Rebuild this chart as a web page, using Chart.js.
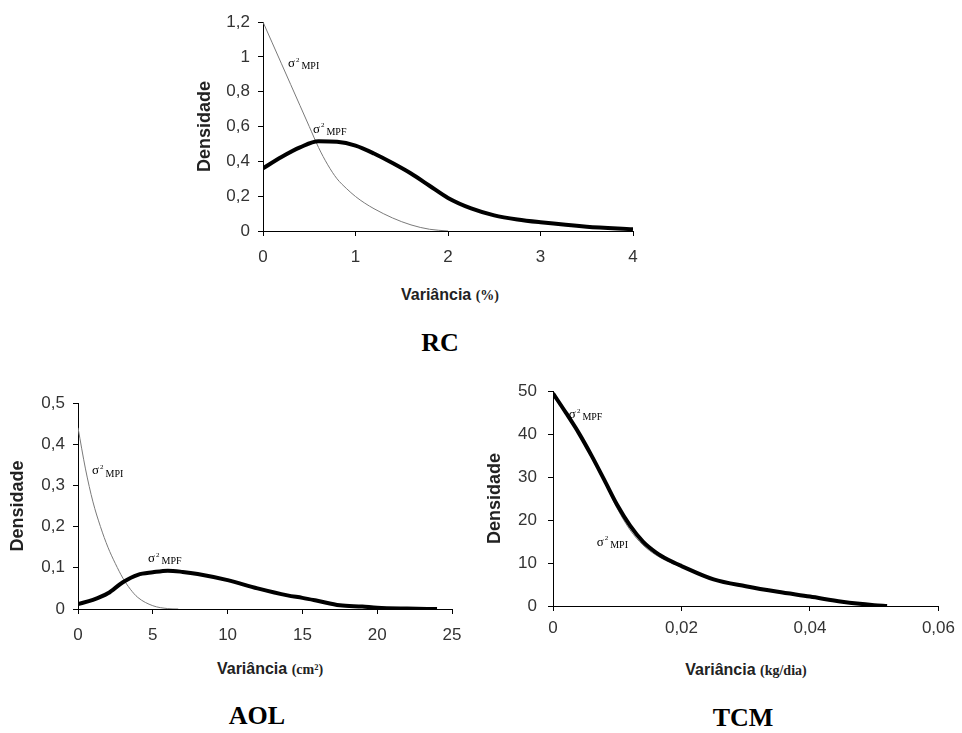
<!DOCTYPE html>
<html>
<head>
<meta charset="utf-8">
<script src="https://cdn.jsdelivr.net/npm/chart.js@4.4.1/dist/chart.umd.min.js"></script>
<style>
  body { margin: 0; background: #fff; width: 962px; height: 733px; position: relative; overflow: hidden; }
  canvas { position: absolute; }
  .xt { position: absolute; transform: translate(-50%, -50%); white-space: nowrap;
        font: bold 16px "Liberation Sans", Arial, sans-serif; color: #222; }
  .xt span { font: bold 14px "Liberation Serif", "Times New Roman", serif; }
  .ct { position: absolute; transform: translate(-50%, -50%); white-space: nowrap;
        font: bold 26px "Liberation Serif", "Times New Roman", serif; color: #000; }
</style>
</head>
<body>
<canvas id="rc"></canvas>
<canvas id="aol"></canvas>
<canvas id="tcm"></canvas>

<div class="xt" style="left:450px;top:295px">Variância <span>(%)</span></div>
<div class="xt" style="left:270px;top:669px">Variância <span>(cm²)</span></div>
<div class="xt" style="left:746px;top:670px">Variância <span>(kg/dia)</span></div>

<div class="ct" style="left:440px;top:343px">RC</div>
<div class="ct" style="left:257px;top:716px">AOL</div>
<div class="ct" style="left:743px;top:718px">TCM</div>

<script>
// RC
const rcMpiX = [0, 0.1, 0.2, 0.3, 0.4, 0.5, 0.6, 0.7, 0.8, 0.9, 1.0, 1.1, 1.2, 1.4, 1.6, 1.8, 2.0];
const rcMpiY = [1.2, 1.08, 0.96, 0.84, 0.72, 0.6, 0.48, 0.38, 0.3, 0.245, 0.198, 0.16, 0.128, 0.075, 0.035, 0.01, 0];
const rcMpfX = [0, 0.2, 0.4, 0.6, 0.8, 1.0, 1.2, 1.4, 1.6, 1.8, 2.0, 2.25, 2.5, 2.75, 3.0, 3.5, 4.0];
const rcMpfY = [0.36, 0.425, 0.48, 0.515, 0.512, 0.49, 0.445, 0.39, 0.33, 0.26, 0.19, 0.13, 0.09, 0.066, 0.05, 0.025, 0.01];
const rcXTicks = [0, 1, 2, 3, 4];
const rcXLabels = ["0", "1", "2", "3", "4"];
const rcYTicks = [0, 0.2, 0.4, 0.6, 0.8, 1, 1.2];
const rcYLabels = ["0", "0,2", "0,4", "0,6", "0,8", "1", "1,2"];

// AOL
const aolMpiX = [0, 0.5, 1, 1.5, 2, 2.5, 3, 3.5, 4, 5, 6, 6.7];
const aolMpiY = [0.44, 0.34, 0.26, 0.2, 0.15, 0.11, 0.075, 0.048, 0.028, 0.008, 0.001, 0];
const aolMpfX = [0, 1, 2, 3, 4, 5, 6, 7, 8, 10, 12, 14, 15, 16, 17.5, 19, 20, 22, 24];
const aolMpfY = [0.012, 0.022, 0.038, 0.065, 0.083, 0.089, 0.093, 0.09, 0.085, 0.07, 0.05, 0.033, 0.027, 0.02, 0.009, 0.006, 0.003, 0.001, 0];
const aolXTicks = [0, 5, 10, 15, 20, 25];
const aolXLabels = ["0", "5", "10", "15", "20", "25"];
const aolYTicks = [0, 0.1, 0.2, 0.3, 0.4, 0.5];
const aolYLabels = ["0", "0,1", "0,2", "0,3", "0,4", "0,5"];

// TCM
const tcmX = [0, 0.002, 0.004, 0.006, 0.008, 0.01, 0.012, 0.014, 0.016, 0.018, 0.02, 0.025, 0.03, 0.035, 0.04, 0.045, 0.05, 0.052];
const tcmMpfY = [49.5, 45.0, 40.3, 35.0, 29.3, 23.5, 18.7, 15.0, 12.5, 10.7, 9.3, 6.2, 4.6, 3.3, 2.2, 1.0, 0.2, 0];
const tcmMpiY = [49.5, 44.9, 40.1, 34.8, 28.9, 22.7, 17.7, 14.2, 11.9, 10.3, 9.1, 6.1, 4.5, 3.3, 2.2, 1.0, 0.2, 0];
const tcmXTicks = [0, 0.02, 0.04, 0.06];
const tcmXLabels = ["0", "0,02", "0,04", "0,06"];
const tcmYTicks = [0, 10, 20, 30, 40, 50];
const tcmYLabels = ["0", "10", "20", "30", "40", "50"];

const sans = "'Liberation Sans', Arial, sans-serif";
const serif = "'Liberation Serif', 'Times New Roman', serif";

const zip = (xs, ys) => xs.map((x, i) => ({ x, y: ys[i] }));

// σ² MPI / σ² MPF labels, anchored in data units
function sigmaLabels(labels) {
  return {
    id: "sigmaLabels",
    afterDatasetsDraw(chart) {
      const { ctx, scales: { x, y } } = chart;
      ctx.save();
      ctx.fillStyle = "#000";
      ctx.textBaseline = "middle";
      labels.forEach((l) => {
        let px = x.getPixelForValue(l.x);
        const py = y.getPixelForValue(l.y);
        ctx.font = "13px " + serif;
        ctx.fillText("σ", px, py);
        px += ctx.measureText("σ").width + 1;
        ctx.font = "7px " + serif;
        ctx.fillText("2", px, py - 4);
        px += ctx.measureText("2").width + 2;
        ctx.font = "10px " + serif;
        ctx.fillText(l.text, px, py + 3);
      });
      ctx.restore();
    },
  };
}

function axis(min, max, ticks, labels, pad) {
  return {
    type: "linear",
    min, max,
    afterBuildTicks: (s) => { s.ticks = ticks.map((v) => ({ value: v })); },
    ticks: { callback: (v, i) => labels[i], color: "#333", font: { family: sans, size: 17 },
             padding: pad, maxRotation: 0, autoSkip: false },
    grid: { drawOnChartArea: false, tickLength: 5, color: "#000" },
    border: { color: "#000", width: 1 },
  };
}

function densityChart(id, box, area, c) {
  const canvas = document.getElementById(id);
  canvas.width = box.w;
  canvas.height = box.h;
  canvas.style.left = box.left + "px";
  canvas.style.top = box.top + "px";
  const yW = area.left - box.left;
  const xH = box.top + box.h - area.bottom;

  const x = axis(c.xMin, c.xMax, c.xTicks, c.xLabels, c.xPad);
  x.afterFit = (s) => { s.height = xH; };
  const y = axis(c.yMin, c.yMax, c.yTicks, c.yLabels, c.yPad);
  y.afterFit = (s) => { s.width = yW; };
  y.title = { display: true, text: "Densidade", color: "#222",
              font: { family: sans, size: 18, weight: "bold" }, padding: { top: c.titlePad, bottom: 0 } };

  return new Chart(canvas, {
    type: "line",
    data: {
      datasets: [
        { label: "σ² MPF", data: c.mpf, borderColor: "#000", borderWidth: 4, order: 0 },
        { label: "σ² MPI", data: c.mpi, borderColor: "#7a7a7a", borderWidth: 1, order: 1 },
      ],
    },
    options: {
      responsive: false,
      animation: false,
      devicePixelRatio: 1,
      layout: { padding: { left: 0, top: area.top - box.top, right: box.left + box.w - area.right, bottom: 0 } },
      elements: { point: { radius: 0 }, line: { cubicInterpolationMode: "monotone", fill: false } },
      plugins: { legend: { display: false }, tooltip: { enabled: false } },
      scales: { x, y },
    },
    plugins: [sigmaLabels(c.labels)],
  });
}

densityChart("rc", { left: 180, top: 0, w: 480, h: 280 }, { left: 263, top: 22, right: 633, bottom: 231 }, {
  mpi: zip(rcMpiX, rcMpiY), mpf: zip(rcMpfX, rcMpfY),
  xMin: 0, xMax: 4, xTicks: rcXTicks, xLabels: rcXLabels, xPad: 11,
  yMin: 0, yMax: 1.2, yTicks: rcYTicks, yLabels: rcYLabels, yPad: 8,
  titlePad: 14,
  labels: [{ x: 0.27, y: 0.96, text: "MPI" }, { x: 0.54, y: 0.585, text: "MPF" }],
});

densityChart("aol", { left: 0, top: 380, w: 480, h: 270 }, { left: 78, top: 403, right: 452, bottom: 609 }, {
  mpi: zip(aolMpiX, aolMpiY), mpf: zip(aolMpfX, aolMpfY),
  xMin: 0, xMax: 25, xTicks: aolXTicks, xLabels: aolXLabels, xPad: 11,
  yMin: 0, yMax: 0.5, yTicks: aolYTicks, yLabels: aolYLabels, yPad: 8,
  titlePad: 7,
  labels: [{ x: 0.94, y: 0.335, text: "MPI" }, { x: 4.68, y: 0.122, text: "MPF" }],
});

densityChart("tcm", { left: 480, top: 370, w: 482, h: 270 }, { left: 553, top: 389, right: 941, bottom: 606 }, {
  mpi: zip(tcmX, tcmMpiY), mpf: zip(tcmX, tcmMpfY),
  xMin: 0, xMax: 0.06, xTicks: tcmXTicks, xLabels: tcmXLabels, xPad: 7,
  yMin: 0, yMax: 50, yTicks: tcmYTicks, yLabels: tcmYLabels, yPad: 11,
  titlePad: 4,
  labels: [{ x: 0.00247, y: 44.5, text: "MPF" }, { x: 0.0068, y: 14.8, text: "MPI" }],
});
</script>
</body>
</html>
